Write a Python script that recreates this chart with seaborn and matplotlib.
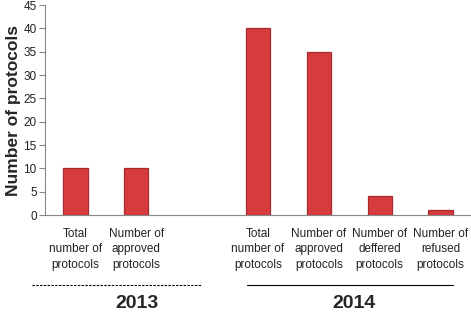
import pandas as pd
import matplotlib
matplotlib.use("Agg")
import matplotlib.pyplot as plt
import seaborn as sns

# data
keys = ["t13", "a13", "gap", "t14", "a14", "d14", "r14"]
tick_labels = ["Total\nnumber of\nprotocols", "Number of\napproved\nprotocols", "",
               "Total\nnumber of\nprotocols", "Number of\napproved\nprotocols",
               "Number of\ndeffered\nprotocols", "Number of\nrefused\nprotocols"]
bar_keys = ["t13", "a13", "t14", "a14", "d14", "r14"]
counts = [10, 10, 40, 35, 4, 1]
years = ["2013", "2014"]

sns.set_style("white")
plt.rcParams['font.family'] = ['Liberation Sans', 'DejaVu Sans']

df = pd.DataFrame({"key": bar_keys, "n": counts})

fig = plt.figure(figsize=(4.71, 3.14), dpi=100)
ax = fig.add_axes([0.0955, 0.315, 0.9045, 0.669])

sns.barplot(data=df, x="key", y="n", order=keys, color="#d63c3e", saturation=1,
            width=0.4, edgecolor="#a92a2c", linewidth=0.9, ax=ax)

ax.set_ylim(0, 45)
ax.set_yticks(range(0, 46, 5))
ax.set_xticks(range(len(keys)))
ax.set_xticklabels(tick_labels, fontsize=8.5, color="#222222", linespacing=1.4)
ax.tick_params(axis="x", length=0, pad=9)
ax.tick_params(axis="y", length=4, width=0.8, color="#888888", labelsize=8.5,
               labelcolor="#222222", left=True, pad=2)
ax.set_xlabel("")
ax.set_ylabel("Number of protocols", fontsize=12.5, fontweight="bold", labelpad=2)
ax.set_xlim(-0.5, len(keys) - 0.5)

for s in ["top", "right"]:
    ax.spines[s].set_visible(False)
for s in ["left", "bottom"]:
    ax.spines[s].set_color("#888888")
    ax.spines[s].set_linewidth(0.8)

# year group markers below the axis
fig.add_artist(plt.Line2D([32 / 471, 202 / 471], [1 - 285 / 314] * 2,
                          color="black", lw=0.8, linestyle=(0, (2.2, 1.2))))
fig.add_artist(plt.Line2D([247 / 471, 453 / 471], [1 - 285 / 314] * 2,
                          color="black", lw=0.8))
fig.text(137 / 471, 1 - 303 / 314, years[0], ha="center", va="center",
         fontsize=14, fontweight="bold")
fig.text(354 / 471, 1 - 303 / 314, years[1], ha="center", va="center",
         fontsize=14, fontweight="bold")

fig.savefig("out.png", dpi=100)
